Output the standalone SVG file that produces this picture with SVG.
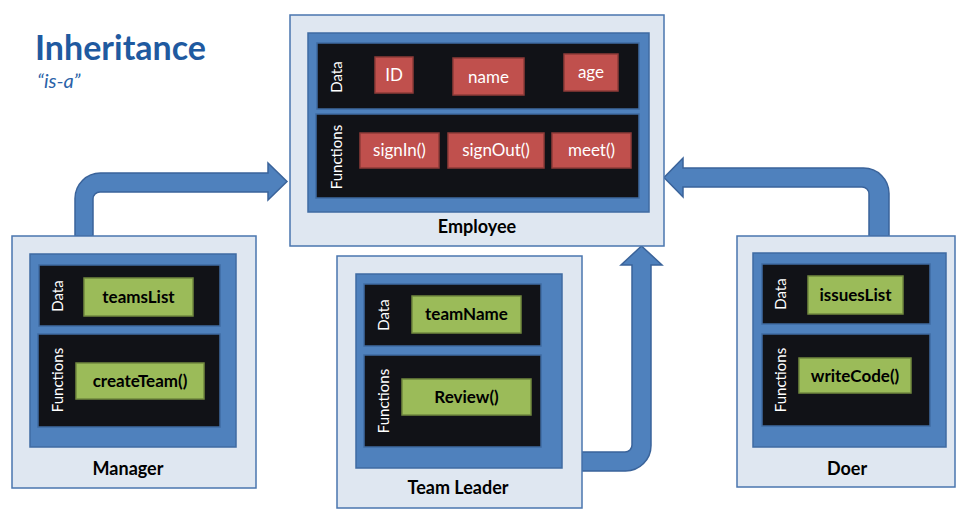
<svg xmlns="http://www.w3.org/2000/svg" width="968" height="518" viewBox="0 0 968 518">
<style>
.outer{fill:#DFE7F1;stroke:#4A76AE;stroke-width:1.5}
.blue{fill:#4F81BD;stroke:#3F6BA2;stroke-width:1.5}
.panel{fill:#111217;stroke:#3F6BA2;stroke-width:1.5}
.red{fill:#C0504D;stroke:#8E3B39;stroke-width:1.5}
.green{fill:#9BBB59;stroke:#71893F;stroke-width:1.5}
.arrow{fill:#4F81BD;stroke:#3A639A;stroke-width:1.5}
.lbl{font-family:Lato,"Open Sans",sans-serif;font-size:15px;fill:#FFFFFF;text-anchor:middle}
.rt{font-family:Lato,"Open Sans",sans-serif;font-size:17px;fill:#FFFFFF;text-anchor:middle}
.gt{font-family:Lato,"Open Sans",sans-serif;font-size:17px;font-weight:bold;fill:#000000;text-anchor:middle}
.name{font-family:Lato,"Open Sans",sans-serif;font-size:18px;font-weight:bold;fill:#000000;text-anchor:middle}
</style>
<g id="title">
<text x="35" y="60" font-family="Lato,'Open Sans',sans-serif" font-size="34" font-weight="bold" fill="#1F5AA0">Inheritance</text>
<text x="37" y="88" font-family="Lato,'Open Sans',sans-serif" font-size="20" font-style="italic" fill="#2A62A8">“is-a”</text>
</g>
<g id="connectors">
<path class="arrow" d="M75,236 L75,198.5 A25.5,25.5 0 0 1 100.5,173 L268,173 L268,163 L287,181.5 L268,200 L268,192 L100,192 A7,7 0 0 0 93,199 L93,236 Z"/>
<path class="arrow" d="M889,236 L889,193.5 A25.5,25.5 0 0 0 863.5,168 L683,168 L683,158 L664,177.5 L683,197 L683,187 L862,187 A7,7 0 0 1 869,194 L869,236 Z"/>
<path class="arrow" d="M582,452 L625,452 A7,7 0 0 0 632,445 L632,265 L621,265 L641.5,246 L662,265 L651,265 L651,445.5 A25.5,25.5 0 0 1 625.5,471 L582,471 Z"/>
</g>
<g id="employee">
<rect class="outer" x="290" y="15" width="374" height="231"/>
<rect class="blue" x="308" y="33" width="341" height="179"/>
<rect class="panel" x="317" y="43" width="322" height="66"/>
<rect class="panel" x="316" y="114" width="323" height="84"/>
<text class="lbl" transform="translate(342,77) rotate(-90)">Data</text>
<text class="lbl" transform="translate(342,157) rotate(-90)">Functions</text>
<rect class="red" x="375" y="57" width="38" height="36"/>
<text class="rt" x="394" y="81">ID</text>
<rect class="red" x="453" y="58" width="71" height="37"/>
<text class="rt" x="488.5" y="83">name</text>
<rect class="red" x="564" y="54" width="54" height="37"/>
<text class="rt" x="591" y="78">age</text>
<rect class="red" x="360" y="133" width="79" height="35"/>
<text class="rt" x="399.5" y="156">signIn()</text>
<rect class="red" x="448" y="133" width="96" height="35"/>
<text class="rt" x="496" y="156">signOut()</text>
<rect class="red" x="552" y="133" width="79" height="35"/>
<text class="rt" x="591.5" y="156">meet()</text>
<text class="name" x="477" y="233">Employee</text>
</g>
<g id="manager">
<rect class="outer" x="12" y="236" width="244" height="252"/>
<rect class="blue" x="30" y="254" width="206" height="193"/>
<rect class="panel" x="39" y="265" width="181" height="61"/>
<rect class="panel" x="38" y="334" width="182" height="93"/>
<text class="lbl" transform="translate(63,296) rotate(-90)">Data</text>
<text class="lbl" transform="translate(63,380) rotate(-90)">Functions</text>
<rect class="green" x="84" y="278" width="109" height="38"/>
<text class="gt" x="138.5" y="303">teamsList</text>
<rect class="green" x="76" y="363" width="128" height="36"/>
<text class="gt" x="140" y="387">createTeam()</text>
<text class="name" x="128" y="475">Manager</text>
</g>
<g id="team-leader">
<rect class="outer" x="337" y="256" width="245" height="252"/>
<rect class="blue" x="356" y="274" width="206" height="194"/>
<rect class="panel" x="364" y="284" width="177" height="62"/>
<rect class="panel" x="364" y="355" width="177" height="92"/>
<text class="lbl" transform="translate(389,315) rotate(-90)">Data</text>
<text class="lbl" transform="translate(389,401) rotate(-90)">Functions</text>
<rect class="green" x="412" y="296" width="109" height="37"/>
<text class="gt" x="466.5" y="320">teamName</text>
<rect class="green" x="402" y="379" width="129" height="36"/>
<text class="gt" x="466.5" y="403">Review()</text>
<text class="name" x="458" y="494">Team Leader</text>
</g>
<g id="doer">
<rect class="outer" x="737" y="236" width="218" height="251"/>
<rect class="blue" x="753" y="253" width="193" height="194"/>
<rect class="panel" x="762" y="264" width="168" height="60"/>
<rect class="panel" x="762" y="334" width="168" height="92"/>
<text class="lbl" transform="translate(786,294) rotate(-90)">Data</text>
<text class="lbl" transform="translate(786,380) rotate(-90)">Functions</text>
<rect class="green" x="808" y="276" width="95" height="38"/>
<text class="gt" x="855.5" y="301">issuesList</text>
<rect class="green" x="799" y="358" width="112" height="35"/>
<text class="gt" x="855" y="382">writeCode()</text>
<text class="name" x="847" y="475">Doer</text>
</g>
</svg>
